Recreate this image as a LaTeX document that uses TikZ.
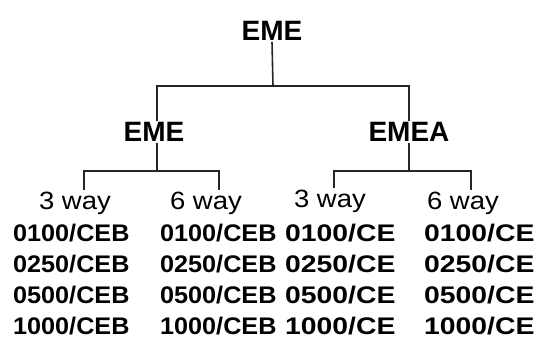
\documentclass[tikz,border=0pt]{standalone}
\usepackage{fontspec}
\setmainfont{Liberation Sans}
\newfontfamily\wayfont[FakeStretch=1.1]{Liberation Sans}
\newfontfamily\cebfont[FakeStretch=1.05]{Liberation Sans Bold}
\newfontfamily\cefont[FakeStretch=1.18]{Liberation Sans Bold}
\usetikzlibrary{positioning,calc}

\begin{document}
\begin{tikzpicture}[
    x=1pt, y=-1pt,
    family/.style={font=\fontsize{28}{30}\selectfont\bfseries, inner sep=1pt},
    way/.style={font=\fontsize{25}{27}\wayfont, inner sep=1pt},
    code/.style={anchor=west, inner sep=0pt},
    link/.style={line width=1.6pt, black!85}
]
\useasboundingbox (0,0) rectangle (541,350);

% Family tree
\node[family] (eme) at (272,31) {EME};
\node[family] (eme2) at (154,132) {EME};
\node[family] (emea) at (409,132) {EMEA};

\coordinate (j0) at (273,86);
\draw[link] (eme.south) -- (j0);
\draw[link] (eme2.north -| 157,0) |- (j0) -| (emea.north);

% Way variants
\node[way] (w1) at (75,203) {3 way};
\node[way] (w2) at (206,203) {6 way};
\node[way] (w3) at (330,201) {3 way};
\node[way] (w4) at (463,203) {6 way};

\coordinate (j1) at (157,171);
\coordinate (j2) at (409,171);
\draw[link] (eme2.south -| j1) -- (j1);
\draw[link] (emea.south) -- (j2);
\draw[link] (w1.north -| 84,0) |- (j1) -| (w2.north -| 219,0);
\draw[link] (w3.north -| 334,0) |- (j2) -| (w4.north -| 471,0);

% Model codes
\foreach \val [count=\r] in {0100,0250,0500,1000} {
    \node[code, font=\fontsize{24}{26}\cebfont] (c1\r) at (13,{233+31*(\r-1)}) {\val/CEB};
    \node[code, font=\fontsize{24}{26}\cebfont] (c2\r) at (160,{233+31*(\r-1)}) {\val/CEB};
    \node[code, font=\fontsize{24}{26}\cefont] (c3\r) at (285,{233+31*(\r-1)}) {\val/CE};
    \node[code, font=\fontsize{24}{26}\cefont] (c4\r) at (424,{233+31*(\r-1)}) {\val/CE};
}

\end{tikzpicture}
\end{document}
